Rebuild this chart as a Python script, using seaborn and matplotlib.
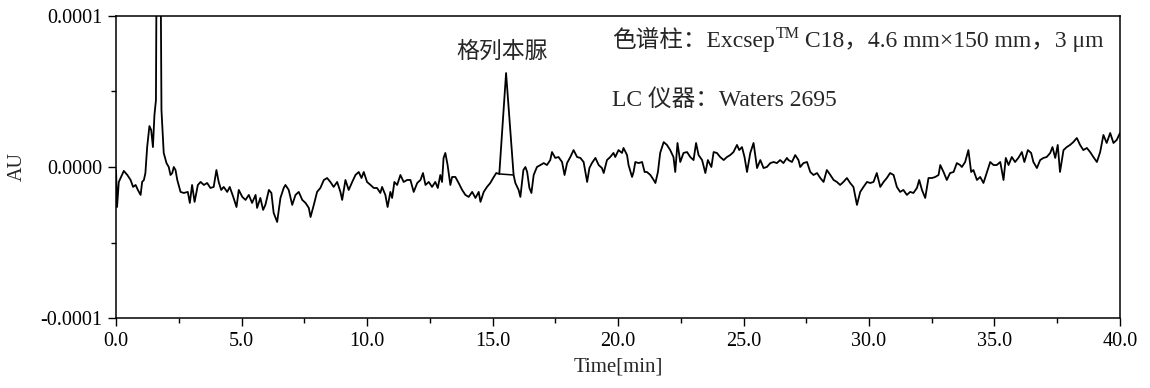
import numpy as np
import pandas as pd
import seaborn as sns
from matplotlib import pyplot as plt
from matplotlib import ticker as tick

# chromatogram trace: time [min], signal [1e-6 AU]
time_min = [
    0.00, 0.04, 0.11, 0.31, 0.45, 0.58, 0.68, 0.78, 0.87, 0.98,
    1.04, 1.11, 1.17, 1.24, 1.33, 1.40, 1.47, 1.53, 1.59, 1.62,
    1.70, 1.77, 1.81, 1.90, 2.01, 2.10, 2.17, 2.24, 2.30, 2.37,
    2.44, 2.57, 2.70, 2.86, 2.94, 3.03, 3.13, 3.26, 3.37, 3.50,
    3.63, 3.76, 3.89, 4.00, 4.09, 4.19, 4.29, 4.43, 4.53, 4.67,
    4.80, 4.89, 5.03, 5.16, 5.29, 5.42, 5.56, 5.62, 5.75, 5.86,
    5.95, 6.09, 6.19, 6.28, 6.42, 6.55, 6.68, 6.75, 6.88, 7.02,
    7.15, 7.28, 7.42, 7.55, 7.68, 7.75, 7.88, 8.01, 8.14, 8.28,
    8.41, 8.54, 8.67, 8.81, 8.94, 9.01, 9.14, 9.27, 9.41, 9.54,
    9.67, 9.78, 9.87, 10.00, 10.14, 10.27, 10.40, 10.53, 10.60, 10.73,
    10.82, 10.93, 11.00, 11.09, 11.20, 11.33, 11.46, 11.60, 11.73, 11.86,
    12.00, 12.13, 12.23, 12.33, 12.46, 12.59, 12.72, 12.82, 12.92, 12.99,
    13.05, 13.12, 13.21, 13.32, 13.39, 13.52, 13.65, 13.79, 13.92, 14.05,
    14.19, 14.32, 14.45, 14.52, 14.65, 14.78, 14.91, 15.05, 15.15, 15.27,
    15.54, 15.84, 15.91, 16.04, 16.11, 16.23, 16.31, 16.38, 16.47, 16.55,
    16.64, 16.77, 16.91, 17.04, 17.17, 17.30, 17.37, 17.50, 17.63, 17.77,
    17.87, 17.97, 18.10, 18.23, 18.37, 18.50, 18.63, 18.77, 18.86, 18.96,
    19.10, 19.23, 19.36, 19.43, 19.56, 19.69, 19.82, 19.89, 20.02, 20.16,
    20.22, 20.36, 20.42, 20.56, 20.62, 20.69, 20.82, 20.96, 21.06, 21.15,
    21.29, 21.42, 21.49, 21.59, 21.68, 21.82, 21.95, 22.08, 22.21, 22.28,
    22.37, 22.48, 22.61, 22.75, 22.88, 23.01, 23.11, 23.21, 23.35, 23.48,
    23.58, 23.72, 23.81, 23.94, 24.07, 24.21, 24.34, 24.47, 24.60, 24.74,
    24.83, 24.94, 25.04, 25.14, 25.27, 25.40, 25.54, 25.67, 25.80, 25.93,
    26.07, 26.20, 26.33, 26.46, 26.59, 26.73, 26.79, 26.93, 27.06, 27.19,
    27.26, 27.39, 27.53, 27.66, 27.79, 27.93, 28.06, 28.19, 28.32, 28.46,
    28.59, 28.72, 28.85, 28.98, 29.12, 29.25, 29.38, 29.52, 29.65, 29.78,
    29.92, 30.05, 30.18, 30.31, 30.45, 30.58, 30.71, 30.84, 30.98, 31.11,
    31.24, 31.37, 31.51, 31.64, 31.77, 31.91, 32.00, 32.11, 32.24, 32.37,
    32.51, 32.64, 32.77, 32.84, 32.97, 33.10, 33.23, 33.37, 33.50, 33.63,
    33.70, 33.83, 33.96, 34.07, 34.16, 34.30, 34.43, 34.56, 34.70, 34.83,
    34.96, 35.09, 35.23, 35.36, 35.45, 35.56, 35.69, 35.82, 35.95, 36.09,
    36.19, 36.33, 36.46, 36.55, 36.69, 36.82, 36.95, 37.08, 37.22, 37.31,
    37.42, 37.52, 37.61, 37.75, 37.88, 38.01, 38.14, 38.28, 38.41, 38.54,
    38.68, 38.81, 38.94, 39.08, 39.21, 39.34, 39.47, 39.61, 39.74, 39.87,
    40.00,
]
signal_uau = [
    -2.0, -26.5, -9.9, -2.6, -5.3, -8.6, -13.2, -11.9, -15.2, -18.5,
    -9.9, -8.6, -4.0, 13.2, 27.1, 24.5, 13.2, 34.4, 44.3, 150.0,
    260.0, 150.0, 37.7, 9.3, 2.6, 0.0, -5.3, -4.0, 0.0, -2.0,
    -8.6, -16.5, -17.2, -16.5, -23.8, -11.9, -23.1, -11.9, -9.9, -11.9,
    -10.6, -13.9, -13.2, -2.0, -9.9, -15.2, -13.2, -16.5, -13.2, -19.8,
    -26.5, -15.2, -19.8, -21.8, -18.5, -23.8, -18.5, -27.1, -20.5, -28.4,
    -25.1, -15.2, -17.2, -30.4, -36.4, -20.5, -13.9, -11.9, -15.2, -25.1,
    -18.5, -16.5, -21.8, -23.8, -27.1, -33.1, -25.1, -16.5, -13.9, -8.6,
    -7.3, -9.9, -13.2, -9.9, -16.5, -21.8, -8.6, -15.2, -9.9, -5.3,
    -3.3, -7.3, -3.3, -9.9, -11.9, -13.9, -13.9, -17.2, -13.2, -18.5,
    -26.5, -16.5, -20.5, -9.9, -11.9, -5.3, -9.9, -8.6, -8.6, -16.5,
    -10.6, -8.6, -4.0, -11.9, -9.9, -13.2, -9.9, -13.9, -5.3, -9.9,
    6.0, 9.3, 1.3, -11.9, -6.6, -6.6, -10.6, -15.2, -18.5, -19.8,
    -16.5, -20.5, -16.5, -23.1, -16.5, -13.2, -10.6, -6.6, -4.0, -4.6,
    62.2, -5.3, -10.6, -15.2, -19.8, -2.0, 0.0, -3.3, -13.9, -17.2,
    -5.3, 0.0, 1.3, 2.6, 1.3, 4.6, 9.9, 6.0, 6.6, 3.3,
    -5.3, 2.6, 6.6, 11.2, 6.6, 6.0, 3.3, -9.9, -0.7, 2.6,
    6.0, 1.3, -0.7, -4.0, 4.6, 6.6, 9.3, 6.6, 11.2, 9.3,
    12.6, 7.9, 1.3, -6.6, -3.3, 3.3, 2.6, 3.3, -3.3, -3.3,
    -5.3, -8.6, -10.6, -3.3, 9.3, 16.5, 14.6, 11.2, 6.6, -3.3,
    15.9, 3.3, 9.3, 9.9, 6.6, 4.6, 15.9, 7.9, 4.6, -4.0,
    4.6, 0.0, 9.9, 9.3, 6.6, 4.6, 6.6, 7.9, 9.9, 14.6,
    11.2, 13.2, 6.6, -3.3, 9.3, 15.9, -0.7, 4.6, -0.7, 0.0,
    2.6, 3.3, 2.6, 4.6, 2.6, 6.0, 4.6, 3.3, 7.9, 4.6,
    0.0, 2.6, 3.3, -3.3, -5.3, -4.0, -7.3, -9.9, -2.0, -5.3,
    -8.6, -9.9, -11.9, -9.9, -7.3, -10.6, -13.2, -25.1, -16.5, -13.2,
    -9.9, -10.6, -9.9, -4.0, -13.2, -9.9, -7.3, -4.0, -5.3, -13.2,
    -16.5, -15.2, -18.5, -16.5, -17.2, -13.9, -8.6, -15.2, -20.5, -7.3,
    -7.3, -6.6, -5.3, 1.3, -3.3, -8.6, -4.0, -3.3, 2.6, 1.3,
    0.0, 3.3, 11.2, -3.3, -2.0, -8.6, -6.6, -10.6, -3.3, 3.3,
    1.3, 1.3, 3.3, -8.6, 6.0, 1.3, 6.6, 3.3, 6.0, 9.9,
    3.3, 11.2, 9.3, 3.3, -0.7, 4.6, 6.0, 6.6, 9.3, 13.2,
    6.0, 14.6, -3.3, 11.2, 13.2, 14.6, 16.5, 19.2, 14.6, 11.2,
    12.6, 9.9, 6.6, 3.3, 9.9, 21.2, 15.9, 22.5, 15.9, 17.9,
    22.5,
]

# integration baseline under the glibenclamide peak
base_time = [15.27, 15.84]
base_uau = [-4.6, -5.3]

peak_label = "格列本脲"
peak_time = 15.4
peak_label_uau = 76

x_ticks = [0, 5, 10, 15, 20, 25, 30, 35, 40]
y_ticks = [-1e-4, 0, 1e-4]


def main():
    sns.set_style("ticks")
    plt.rcParams["font.family"] = ["Liberation Serif", "Noto Sans CJK SC"]
    plt.rcParams["axes.unicode_minus"] = False

    df = pd.DataFrame({"Time": time_min, "AU": np.array(signal_uau) * 1e-6})
    df_base = pd.DataFrame({"Time": base_time, "AU": np.array(base_uau) * 1e-6})

    fig = plt.figure(figsize=(11.5, 3.88), dpi=100)
    ax = fig.add_axes([0.1009, 0.1804, 0.873, 0.7784])

    sns.lineplot(data=df, x="Time", y="AU", estimator=None, sort=False,
                 color="black", linewidth=1.3, ax=ax)
    sns.lineplot(data=df_base, x="Time", y="AU", estimator=None, sort=False,
                 color="black", linewidth=1.1, ax=ax)

    ax.set_xlim(0, 40)
    ax.set_ylim(-1e-4, 1e-4)
    ax.set_xticks(x_ticks)
    ax.set_yticks(y_ticks)
    ax.xaxis.set_minor_locator(tick.MultipleLocator(2.5))
    ax.yaxis.set_minor_locator(tick.MultipleLocator(5e-5))
    ax.xaxis.set_major_formatter(tick.FormatStrFormatter("%.1f"))
    ax.yaxis.set_major_formatter(tick.FormatStrFormatter("%.4f"))
    ax.tick_params(which="major", length=6, width=1.0, pad=4,
                   labelsize=14.5, color="black", labelcolor="black")
    ax.tick_params(which="minor", length=3.5, width=1.0, color="black")

    for s in ax.spines.values():
        s.set_visible(True)
        s.set_color("black")
        s.set_linewidth(1.1)

    ax.set_xlabel("Time[min]", fontsize=15)
    ax.set_ylabel("AU", fontsize=14.5)
    ax.xaxis.label.set_va("center")
    ax.xaxis.set_label_coords(0.5, -0.162)
    ax.yaxis.label.set_va("center")
    ax.yaxis.set_label_coords(-0.098, 0.5)

    ax.text(peak_time, peak_label_uau * 1e-6, peak_label, ha="center",
            va="center", fontsize=16.5)

    t1 = ax.text(0.494, 0.88, "色谱柱：Excsep", transform=ax.transAxes,
                 ha="left", va="bottom", fontsize=17)
    t2 = ax.annotate("TM", xy=(1, 0), xycoords=t1, xytext=(0.5, 7.5),
                     textcoords="offset points", ha="left", va="bottom",
                     fontsize=11.5)
    ax.annotate(" C18，4.6 mm×150 mm，3 μm", xy=(1, 0), xycoords=(t2, t1),
                ha="left", va="bottom", fontsize=17)
    ax.text(0.494, 0.685, "LC 仪器：Waters 2695", transform=ax.transAxes,
            ha="left", va="bottom", fontsize=17)

    fig.savefig("out.png", dpi=100)


if __name__ == "__main__":
    main()
